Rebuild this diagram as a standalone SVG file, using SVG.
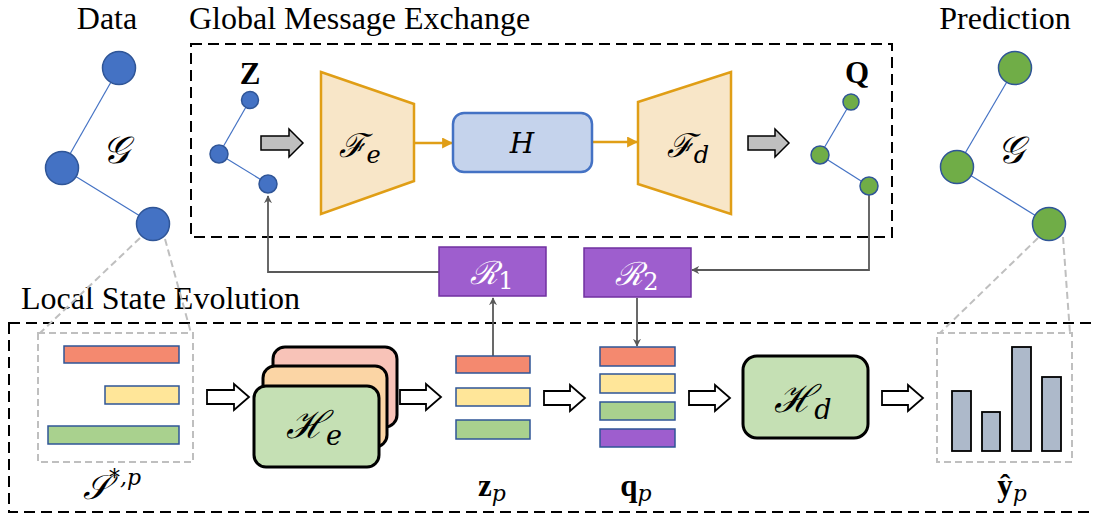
<svg xmlns="http://www.w3.org/2000/svg" width="1093" height="515" viewBox="0 0 1093 515">
<defs>
<style>
.title{font-family:"Liberation Serif","Times New Roman",serif;font-size:32px;fill:#000}
.math{font-family:"DejaVu Serif","Liberation Serif",serif;font-style:italic;fill:#000}
.bold{font-family:"Liberation Serif",serif;font-weight:bold;fill:#000}
.bnode{fill:#4472C4;stroke:#2F5597;stroke-width:1.5}
.gnode{fill:#70AD47;stroke:#2F5597;stroke-width:1.5}
.edge{stroke:#4472C4;stroke-width:1.2;fill:none}
.dash{fill:none;stroke:#000;stroke-width:2;stroke-dasharray:11 6}
.gdash{fill:none;stroke:#BFBFBF;stroke-width:2;stroke-dasharray:7 4}
.conn{fill:none;stroke:#595959;stroke-width:1.8}
.garrow{fill:#BFBFBF;stroke:#000;stroke-width:1.5}
.harrow{fill:#fff;stroke:#000;stroke-width:1.8}
.trap{fill:#F8E6C8;stroke:#E09E16;stroke-width:2.5}
.bar{stroke:#2F5597;stroke-width:1.5}
.r{fill:#F4896F}.y{fill:#FFE699}.g{fill:#A9D18E}.p{fill:#9E5ECE}
.card{stroke:#000;stroke-width:3}
.rbox{fill:#9E5ECE;stroke:#7030A0;stroke-width:1.5}
.hist{fill:#ADB9CA;stroke:#000;stroke-width:1.8}
</style>
<marker id="ah" viewBox="0 0 10 10" refX="9" refY="5" markerWidth="8" markerHeight="8" markerUnits="userSpaceOnUse" orient="auto">
<path d="M0,0 L10,5 L0,10 L3,5 Z" fill="#595959"/>
</marker>
<marker id="oh" viewBox="0 0 10 10" refX="9" refY="5" markerWidth="11" markerHeight="11" markerUnits="userSpaceOnUse" orient="auto">
<path d="M0,0 L10,5 L0,10 Z" fill="#E09E16"/>
</marker>
</defs>

<!-- titles -->
<text class="title" x="107" y="29" text-anchor="middle">Data</text>
<text class="title" x="189" y="29">Global Message Exchange</text>
<text class="title" x="1005" y="29" text-anchor="middle">Prediction</text>
<text class="title" x="21" y="309">Local State Evolution</text>

<!-- group boxes -->
<rect id="global-box" class="dash" x="191" y="44" width="701" height="193"/>
<rect id="local-box" class="dash" x="9" y="323" width="1100" height="189"/>

<!-- gray zoom lines -->
<g id="zoom-lines">
<line class="gdash" x1="140" y1="238" x2="40" y2="333"/>
<line class="gdash" x1="165" y1="239" x2="191" y2="333"/>
<line class="gdash" x1="1038" y1="238" x2="940" y2="333"/>
<line class="gdash" x1="1063" y1="237" x2="1070" y2="333"/>
</g>

<!-- connectors -->
<g id="connectors">
<polyline class="conn" points="439,272 268,272 268,196" marker-end="url(#ah)"/>
<polyline class="conn" points="869,195 869,270 692,270" marker-end="url(#ah)"/>
<line class="conn" x1="493" y1="356" x2="493" y2="298" marker-end="url(#ah)"/>
<line class="conn" x1="637" y1="298" x2="637" y2="346" marker-end="url(#ah)"/>
<line x1="414" y1="143" x2="452" y2="143" stroke="#E09E16" stroke-width="2.5" marker-end="url(#oh)"/>
<line x1="592" y1="142" x2="637" y2="142" stroke="#E09E16" stroke-width="2.5" marker-end="url(#oh)"/>
<path class="garrow" d="M261,136 H289 V129 L303,143 L289,157 V150 H261 Z"/>
<path class="garrow" d="M748,136 H775 V129 L789,143 L775,157 V150 H748 Z"/>
<path class="harrow" d="M207,390 H234 V384 L249,397 L234,410 V404 H207 Z"/>
<path class="harrow" d="M400,390 H426 V384 L441,397 L426,410 V404 H400 Z"/>
<path class="harrow" d="M544,391 H570 V385 L585,398 L570,411 V405 H544 Z"/>
<path class="harrow" d="M689,391 H715 V385 L730,398 L715,411 V405 H689 Z"/>
<path class="harrow" d="M882,391 H908 V385 L923,398 L908,411 V405 H882 Z"/>
</g>

<!-- data graph -->
<g id="data-graph">
<line class="edge" x1="119" y1="68" x2="62" y2="168"/>
<line class="edge" x1="62" y1="168" x2="153" y2="224"/>
<circle class="bnode" cx="119" cy="68" r="16.5"/>
<circle class="bnode" cx="62" cy="168" r="16.5"/>
<circle class="bnode" cx="153" cy="224" r="16.5"/>
<text class="math" x="115" y="163" font-size="38" text-anchor="middle">𝒢</text>
</g>

<!-- Z graph -->
<g id="z-graph">
<text class="bold" x="250" y="84" font-size="31" text-anchor="middle">Z</text>
<line class="edge" x1="250" y1="100" x2="219" y2="154"/>
<line class="edge" x1="219" y1="154" x2="268" y2="184"/>
<circle class="bnode" cx="250" cy="100" r="8.5"/>
<circle class="bnode" cx="219" cy="154" r="9"/>
<circle class="bnode" cx="268" cy="184" r="9"/>
</g>

<g id="Fe">
<polygon class="trap" points="321,72 414,104 414,181 321,214"/>
<text class="math" x="360" y="157" font-size="33" text-anchor="middle">ℱ<tspan font-size="24" dy="6">e</tspan></text>
</g>

<g id="H">
<rect x="453" y="113" width="139" height="59" rx="11" fill="#C5D3EC" stroke="#4472C4" stroke-width="2.5"/>
<text class="math" x="522" y="153" font-size="28" text-anchor="middle">H</text>
</g>

<g id="Fd">
<polygon class="trap" points="638,102 731,72 731,214 638,184"/>
<text class="math" x="688" y="157" font-size="33" text-anchor="middle">ℱ<tspan font-size="24" dy="6">d</tspan></text>
</g>

<!-- Q graph -->
<g id="q-graph">
<text class="bold" x="857" y="83" font-size="31" text-anchor="middle">Q</text>
<line class="edge" x1="851" y1="102" x2="820" y2="155"/>
<line class="edge" x1="820" y1="155" x2="869" y2="186"/>
<circle class="gnode" cx="851" cy="102" r="8"/>
<circle class="gnode" cx="820" cy="155" r="9"/>
<circle class="gnode" cx="869" cy="186" r="9"/>
</g>

<!-- prediction graph -->
<g id="pred-graph">
<line class="edge" x1="1015" y1="68" x2="957" y2="167"/>
<line class="edge" x1="957" y1="167" x2="1049" y2="224"/>
<circle class="gnode" cx="1015" cy="68" r="16.5"/>
<circle class="gnode" cx="957" cy="167" r="16.5"/>
<circle class="gnode" cx="1049" cy="224" r="16.5"/>
<text class="math" x="1010" y="163" font-size="38" text-anchor="middle">𝒢</text>
</g>

<g id="R1">
<rect class="rbox" x="439" y="247" width="107" height="49"/>
<text class="math" x="492" y="284" font-size="32" style="fill:#fff" text-anchor="middle">ℛ<tspan font-style="normal" font-size="24" dy="5">1</tspan></text>
</g>

<g id="R2">
<rect class="rbox" x="584" y="248" width="107" height="49"/>
<text class="math" x="637" y="285" font-size="32" style="fill:#fff" text-anchor="middle">ℛ<tspan font-style="normal" font-size="24" dy="5">2</tspan></text>
</g>

<!-- input sequences -->
<g id="input-seq">
<rect class="gdash" x="38" y="333" width="155" height="129"/>
<rect class="bar r" x="64" y="346" width="115" height="17"/>
<rect class="bar y" x="105" y="386" width="74" height="18"/>
<rect class="bar g" x="48" y="426" width="131" height="18"/>
<text class="math" x="112" y="499" font-size="34" text-anchor="middle">𝒮<tspan font-size="22" dy="-14">*,p</tspan></text>
</g>

<g id="He">
<rect class="card" x="273" y="347" width="124" height="80" rx="12" fill="#F8C3B8"/>
<rect class="card" x="263" y="366" width="124" height="81" rx="12" fill="#FBD5A5"/>
<rect class="card" x="254" y="386" width="125" height="81" rx="12" fill="#C5E0B4"/>
<text class="math" x="314" y="438" font-size="38" text-anchor="middle">ℋ<tspan font-size="27" dy="7">e</tspan></text>
</g>

<g id="zp">
<rect class="bar r" x="456" y="356" width="74" height="17"/>
<rect class="bar y" x="456" y="388" width="74" height="18"/>
<rect class="bar g" x="456" y="420" width="74" height="19"/>
<text x="492" y="496" font-size="31" text-anchor="middle"><tspan class="bold">z</tspan><tspan class="math" font-size="22" dy="5">p</tspan></text>
</g>

<g id="qp">
<rect class="bar r" x="600" y="347" width="75" height="19"/>
<rect class="bar y" x="600" y="374" width="75" height="19"/>
<rect class="bar g" x="600" y="402" width="75" height="18"/>
<rect class="bar p" x="600" y="429" width="75" height="18"/>
<text x="636" y="496" font-size="31" text-anchor="middle"><tspan class="bold">q</tspan><tspan class="math" font-size="22" dy="5">p</tspan></text>
</g>

<g id="Hd">
<rect class="card" x="743" y="356" width="125" height="82" rx="14" fill="#C5E0B4"/>
<text class="math" x="803" y="412" font-size="38" text-anchor="middle">ℋ<tspan font-size="27" dy="7">d</tspan></text>
</g>

<g id="yhat">
<rect class="gdash" x="937" y="333" width="135" height="129"/>
<rect class="hist" x="952" y="391" width="19" height="60"/>
<rect class="hist" x="982" y="412" width="18" height="39"/>
<rect class="hist" x="1012" y="347" width="19" height="104"/>
<rect class="hist" x="1042" y="377" width="19" height="74"/>
<text x="1012" y="496" font-size="31" text-anchor="middle"><tspan class="bold">ŷ</tspan><tspan class="math" font-size="22" dy="5">p</tspan></text>
</g>
</svg>
